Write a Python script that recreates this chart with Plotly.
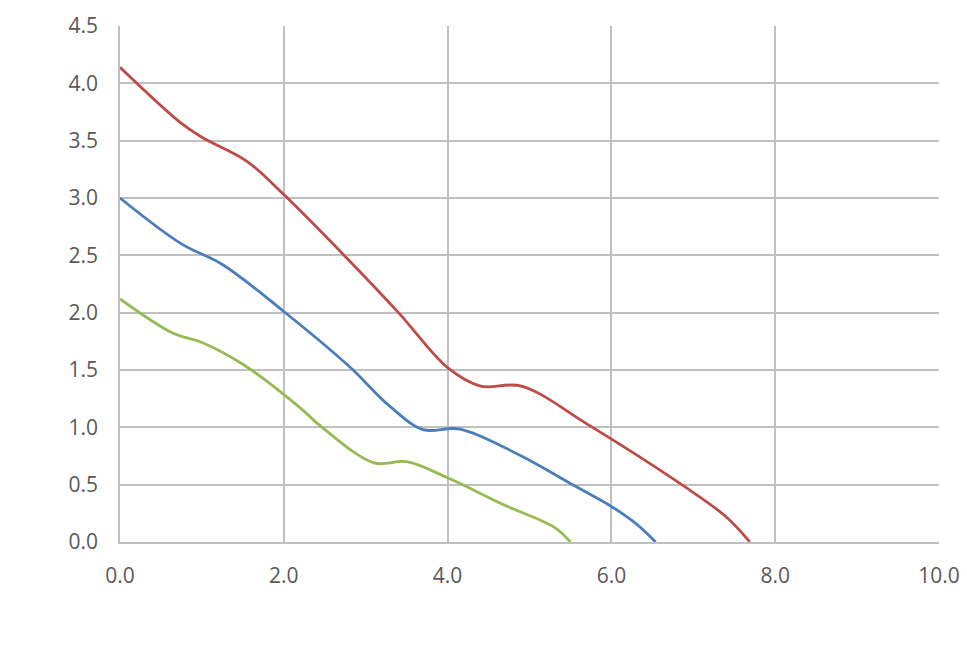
import plotly.graph_objects as go

red_x = [0.0, 0.75, 1.0, 1.55, 2.0, 2.75, 3.4, 4.0, 4.4, 4.9, 5.7, 6.9, 7.4, 7.69]
red_y = [4.14, 3.65, 3.53, 3.32, 3.03, 2.49, 2.0, 1.52, 1.36, 1.36, 1.03, 0.48, 0.22, 0.0]

blue_x = [0.0, 0.75, 1.25, 2.0, 2.8, 3.3, 3.7, 4.15, 4.9, 5.5, 6.0, 6.3, 6.54]
blue_y = [3.0, 2.60, 2.42, 2.01, 1.53, 1.18, 0.98, 0.985, 0.75, 0.51, 0.31, 0.16, 0.0]

green_x = [0.0, 0.65, 1.0, 1.5, 2.2, 2.45, 3.1, 3.5, 4.0, 4.7, 5.3, 5.5]
green_y = [2.12, 1.82, 1.74, 1.55, 1.17, 1.01, 0.69, 0.70, 0.56, 0.32, 0.13, 0.0]

x_ticks = [0, 2, 4, 6, 8, 10]
y_ticks = [0, 0.5, 1, 1.5, 2, 2.5, 3, 3.5, 4, 4.5]

fig = go.Figure()
for xs, ys, col in [(blue_x, blue_y, "#4A7EBB"), (red_x, red_y, "#BE4B48"), (green_x, green_y, "#98B954")]:
    fig.add_trace(go.Scatter(x=xs, y=ys, mode="lines",
                             line=dict(color=col, width=2.8, shape="spline", smoothing=1.0),
                             showlegend=False, hoverinfo="skip"))

font = dict(family="Open Sans, Liberation Sans, Arial, sans-serif", size=21, color="#595959")
fig.update_layout(
    width=959, height=645,
    margin=dict(l=112, r=28, t=18, b=111, autoexpand=False),
    paper_bgcolor="white", plot_bgcolor="white",
    font=font,
    xaxis=dict(range=[0, 10], tickvals=x_ticks, ticktext=[f"{v:.1f}" for v in x_ticks],
               showgrid=True, gridcolor="#C0C0C0", gridwidth=1.5, zeroline=False,
               showline=True, linecolor="#C0C0C0", linewidth=1.5, mirror=False,
               ticks="", ticklabelstandoff=14, tickfont=font, fixedrange=True,
               automargin=False, ticklabeloverflow="allow"),
    yaxis=dict(range=[0, 4.5], tickvals=y_ticks, ticktext=[f"{v:.1f}" for v in y_ticks],
               showgrid=True, gridcolor="#C0C0C0", gridwidth=1.5, zeroline=False,
               showline=True, linecolor="#C0C0C0", linewidth=1.5,
               ticks="", ticklabelstandoff=16, tickfont=font, fixedrange=True,
               automargin=False, ticklabeloverflow="allow"),
)
fig.write_html("out.html")
